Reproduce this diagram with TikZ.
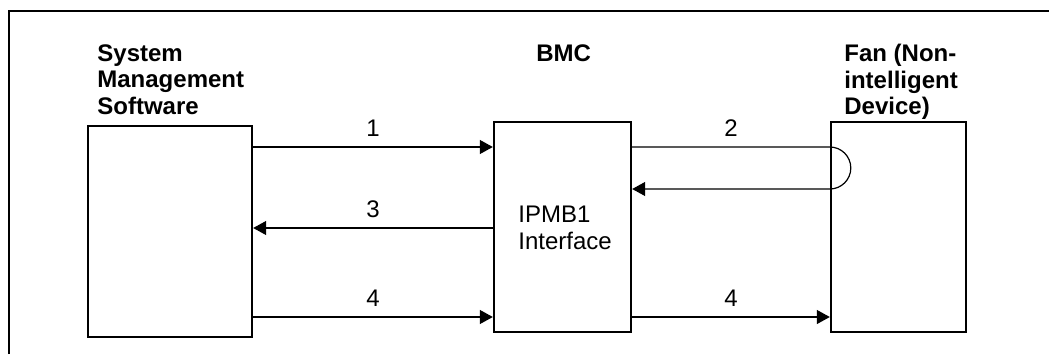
\documentclass[tikz,border=0pt]{standalone}
\usepackage{fontspec}
\setmainfont{Liberation Sans}
\usetikzlibrary{arrows.meta}
\tikzset{
  box/.style={draw, line width=1.2pt, inner sep=0pt},
  arr/.style={line width=0.6pt, -{Triangle[length=6.5pt,width=7pt]}},
  lbl/.style={font=\fontsize{12pt}{13.5pt}\selectfont, inner sep=0pt},
  title/.style={font=\fontsize{12pt}{13.3pt}\selectfont\bfseries, inner sep=0pt, align=left, anchor=north west},
}
\begin{document}
\begin{tikzpicture}[x=0.5pt,y=0.5pt]
\useasboundingbox (0,0) rectangle (1049,354);
\draw[line width=1.2pt] (9,0) -- (9,343) -- (1049,343); %frame
\node[box, minimum width=82pt, minimum height=105.5pt] (sms) at (170,122.5) {};
\node[box, minimum width=68.5pt, minimum height=105pt] (bmc) at (562.5,127) {};
\node[box, minimum width=67.5pt, minimum height=105pt] (fan) at (898.5,127) {};
\node[title] (smstitle) at (97,310) {System\\Management\\Software};
\node[title] (bmctitle) at (536,310) {BMC};
\node[title] (fantitle) at (844,310) {Fan (Non-\\intelligent\\Device)};
\node[lbl, align=left, anchor=north west] (ipmb) at (518,148) {IPMB1\\Interface};
\draw[arr] (sms.east |- 0,207) -- node[lbl, above=5pt] (n1) {1} (bmc.west |- 0,207);
\draw[arr] (bmc.east |- 0,207) -- node[lbl, above=5pt] (n2) {2} (fan.west |- 0,207)
  arc[start angle=90, end angle=-90, radius=10.5pt] -- (bmc.east |- 0,165);
\draw[arr] (bmc.west |- 0,126) -- node[lbl, above=5pt] (n3) {3} (sms.east |- 0,126);
\draw[arr] (sms.east |- 0,37) -- node[lbl, above=5pt] (n4a) {4} (bmc.west |- 0,37);
\draw[arr] (bmc.east |- 0,37) -- node[lbl, above=5pt] (n4b) {4} (fan.west |- 0,37);
\end{tikzpicture}
\end{document}
